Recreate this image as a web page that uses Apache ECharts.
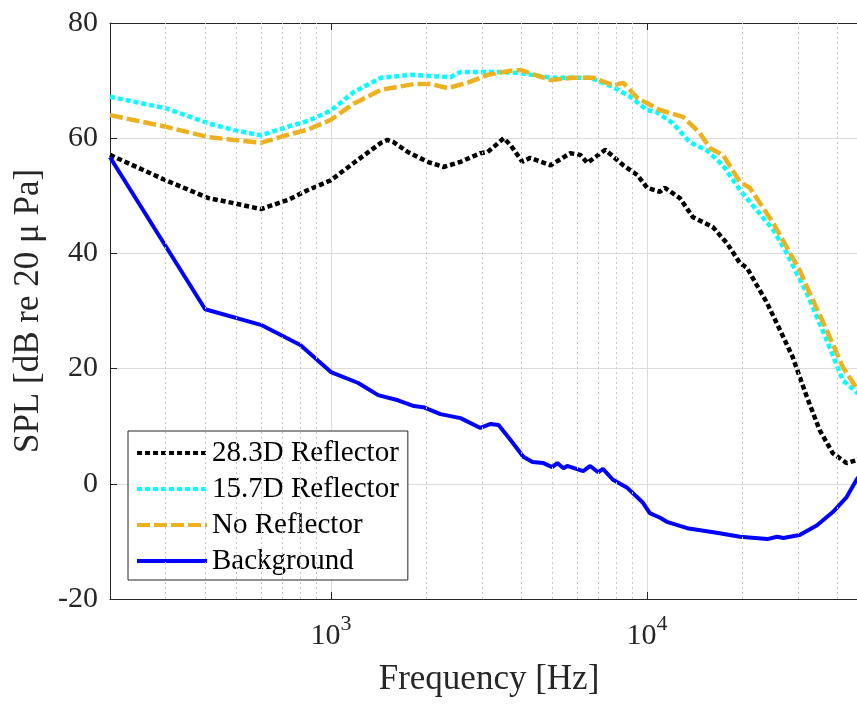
<!DOCTYPE html>
<html><head><meta charset="utf-8">
<script src="https://cdn.jsdelivr.net/npm/echarts@6/dist/echarts.min.js"></script>
<style>html,body{margin:0;padding:0;background:#fff;overflow:hidden}#c{width:857px;height:705px}</style>
</head><body><div id="c"></div>
<script>
// ---- data ----
const bgFreq = [200, 400, 600, 800, 1000, 1220, 1410, 1630, 1830, 1960, 2220, 2570, 2970, 3200, 3390, 3700, 4060, 4340, 4700, 5010, 5200, 5440, 5590, 6280, 6610, 7000, 7250, 7800, 8660, 9710, 10200, 11000, 11550, 13400, 16600, 19700, 24000, 25800, 27000, 30400, 34500, 38700, 42800, 46000, 50000];
const bgSpl  = [56.7, 30.3, 27.6, 24.1, 19.4, 17.5, 15.4, 14.5, 13.5, 13.3, 12.1, 11.4, 9.7, 10.4, 10.2, 7.6, 4.7, 3.8, 3.6, 2.9, 3.6, 2.7, 3.1, 2.2, 3.1, 2.0, 2.6, 0.7, -0.7, -3.3, -5.1, -5.9, -6.6, -7.7, -8.5, -9.2, -9.6, -9.2, -9.4, -8.9, -7.2, -4.9, -2.3, 0.7, 3.5];

const r28Freq = [200, 300, 410, 494, 600, 732, 846, 1000, 1180, 1440, 1510, 1580, 1750, 2020, 2270, 2570, 2970, 3130, 3260, 3520, 3700, 4030, 4270, 4950, 5720, 6150, 6470, 7380, 8410, 9320, 10000, 10980, 11390, 12700, 13960, 16140, 17880, 19680, 20700, 23960, 26330, 28890, 32020, 35170, 38700, 42800, 46000, 50000];
const r28Spl  = [57.1, 52.7, 49.6, 48.7, 47.7, 49.3, 51.0, 52.7, 55.7, 59.2, 59.7, 59.3, 57.6, 55.9, 55.0, 55.9, 57.4, 57.6, 58.4, 60.0, 58.8, 55.9, 56.6, 55.3, 57.4, 57.1, 55.7, 58.0, 55.3, 53.6, 51.4, 50.7, 51.4, 49.6, 46.3, 44.6, 41.8, 38.3, 37.5, 31.4, 26.7, 22.0, 15.1, 9.3, 5.3, 3.6, 4.1, 5.5];

const r15Freq = [200, 300, 409, 494, 600, 732, 846, 1000, 1180, 1440, 1790, 2070, 2390, 2570, 3130, 3440, 3980, 4950, 6610, 7800, 8850, 10000, 10740, 12060, 13650, 15450, 17380, 19680, 22250, 25060, 27630, 32020, 36990, 41600, 46000, 50000];
const r15Spl  = [67.2, 65.2, 62.6, 61.4, 60.5, 62.0, 63.0, 64.8, 68.0, 70.5, 71.0, 70.8, 70.6, 71.5, 71.5, 71.5, 71.3, 70.5, 70.5, 68.9, 67.2, 64.9, 64.5, 62.6, 59.3, 57.9, 55.3, 51.0, 47.5, 44.1, 40.1, 33.1, 25.0, 18.0, 15.9, 15.0];

const noFreq = [200, 300, 409, 494, 600, 732, 846, 1000, 1180, 1440, 1830, 2070, 2340, 2700, 3130, 3780, 4000, 4950, 5840, 6760, 7800, 8410, 9320, 10220, 10980, 13000, 14690, 15790, 17380, 19680, 21130, 25060, 28300, 30400, 32020, 36990, 41600, 46000, 50000];
const noSpl  = [64.0, 62.0, 60.2, 59.7, 59.2, 60.6, 61.5, 63.2, 66.0, 68.4, 69.4, 69.4, 68.7, 69.6, 71.0, 71.8, 71.8, 70.1, 70.5, 70.5, 69.2, 69.6, 67.0, 65.8, 64.9, 63.7, 60.9, 58.3, 57.1, 52.4, 51.4, 45.3, 40.1, 37.1, 34.2, 26.7, 20.3, 16.6, 15.5];

const seriesNames = ['28.3D Reflector', '15.7D Reflector', 'No Reflector', 'Background'];
const minorGridFreq = [300, 400, 500, 600, 700, 800, 900, 2000, 3000, 4000, 5000, 6000, 7000, 8000, 9000, 20000, 30000, 40000];
const yTicks = [-20, 0, 20, 40, 60, 80];

// ---- chart ----
const FONT = 'Liberation Serif';
const AX = '#262626';
const pair = (f, v) => f.map((x, i) => [x, v[i]]);
const chart = echarts.init(document.getElementById('c'), null, {renderer: 'canvas'});

const option = {
  animation: false,
  backgroundColor: '#fff',
  grid: {left: 110, top: 23, width: 758, height: 576, containLabel: false, outerBoundsMode: 'none'},
  xAxis: [{
    type: 'log', logBase: 10, min: 200, max: 50000, position: 'bottom',
    name: 'Frequency [Hz]', nameLocation: 'middle', nameGap: 63,
    nameTextStyle: {fontFamily: FONT, fontSize: 35, color: AX},
    axisLine: {show: true, onZero: false, lineStyle: {color: AX, width: 1}},
    axisTick: {show: true, inside: true, length: 7, lineStyle: {color: AX}},
    axisLabel: {
      margin: 14,
      formatter: function (v) {
        const e = Math.round(Math.log10(v));
        if ((e === 3 || e === 4) && Math.abs(Math.pow(10, e) - v) < 1e-6 * v) return '{b|10}{s|' + e + '}';
        return '';
      },
      rich: {
        b: {fontFamily: FONT, fontSize: 30, color: AX, verticalAlign: 'bottom', lineHeight: 38},
        s: {fontFamily: FONT, fontSize: 22, color: AX, verticalAlign: 'top', lineHeight: 38}
      }
    },
    splitLine: {show: true, lineStyle: {color: '#dcdcdc', width: 1}}
  }, {
    type: 'log', logBase: 10, min: 200, max: 50000, position: 'top',
    axisLine: {show: true, onZero: false, lineStyle: {color: AX, width: 1}},
    axisTick: {show: true, inside: true, length: 7, lineStyle: {color: AX}},
    axisLabel: {show: false}, splitLine: {show: false}
  }],
  yAxis: {
    type: 'value', min: yTicks[0], max: yTicks[yTicks.length - 1], interval: 20,
    name: 'SPL [dB re 20 \u03bc Pa]', nameLocation: 'middle', nameGap: 64, nameRotate: 90,
    nameTextStyle: {fontFamily: FONT, fontSize: 35, color: AX},
    axisLine: {show: true, onZero: false, lineStyle: {color: AX, width: 1}},
    axisTick: {show: true, inside: true, length: 7, lineStyle: {color: AX}},
    axisLabel: {fontFamily: FONT, fontSize: 30, color: AX, margin: 12},
    splitLine: {show: true, lineStyle: {color: '#dcdcdc', width: 1}}
  },
  legend: {
    orient: 'vertical', left: 128, top: 431,
    data: seriesNames,
    itemWidth: 70, itemHeight: 14, itemGap: 6,
    itemStyle: {opacity: 0},
    lineStyle: {width: 4},
    textStyle: {fontFamily: FONT, fontSize: 29, color: '#000', lineHeight: 30},
    backgroundColor: '#fff', borderColor: AX, borderWidth: 1, borderRadius: 0,
    padding: [7, 9, 4, 7],
    selectedMode: false
  },
  series: [
    {
      name: '_grid', type: 'line', data: [[200, -100]], symbol: 'none', silent: true, z: 0,
      lineStyle: {width: 0},
      markLine: {
        silent: true, symbol: 'none', animation: false,
        label: {show: false},
        lineStyle: {color: '#c8c8c8', type: [2, 3], width: 1},
        emphasis: {disabled: true},
        data: minorGridFreq.map(v => ({xAxis: v}))
      }
    },
    {
      name: seriesNames[0], type: 'line', data: pair(r28Freq, r28Spl), symbol: 'none', z: 3,
      lineStyle: {color: '#000000', width: 4.5, type: [5, 3]}, itemStyle: {color: '#000000'}
    },
    {
      name: seriesNames[1], type: 'line', data: pair(r15Freq, r15Spl), symbol: 'none', z: 3,
      lineStyle: {color: '#00ffff', width: 4.5, type: [5, 3]}, itemStyle: {color: '#00ffff'}
    },
    {
      name: seriesNames[2], type: 'line', data: pair(noFreq, noSpl), symbol: 'none', z: 3,
      lineStyle: {color: '#edb120', width: 4.5, type: [13, 4]}, itemStyle: {color: '#edb120'}
    },
    {
      name: seriesNames[3], type: 'line', data: pair(bgFreq, bgSpl), symbol: 'none', z: 3,
      lineStyle: {color: '#0000ff', width: 4, type: 'solid'}, itemStyle: {color: '#0000ff'}
    }
  ]
};
chart.setOption(option);
</script>
</body></html>
